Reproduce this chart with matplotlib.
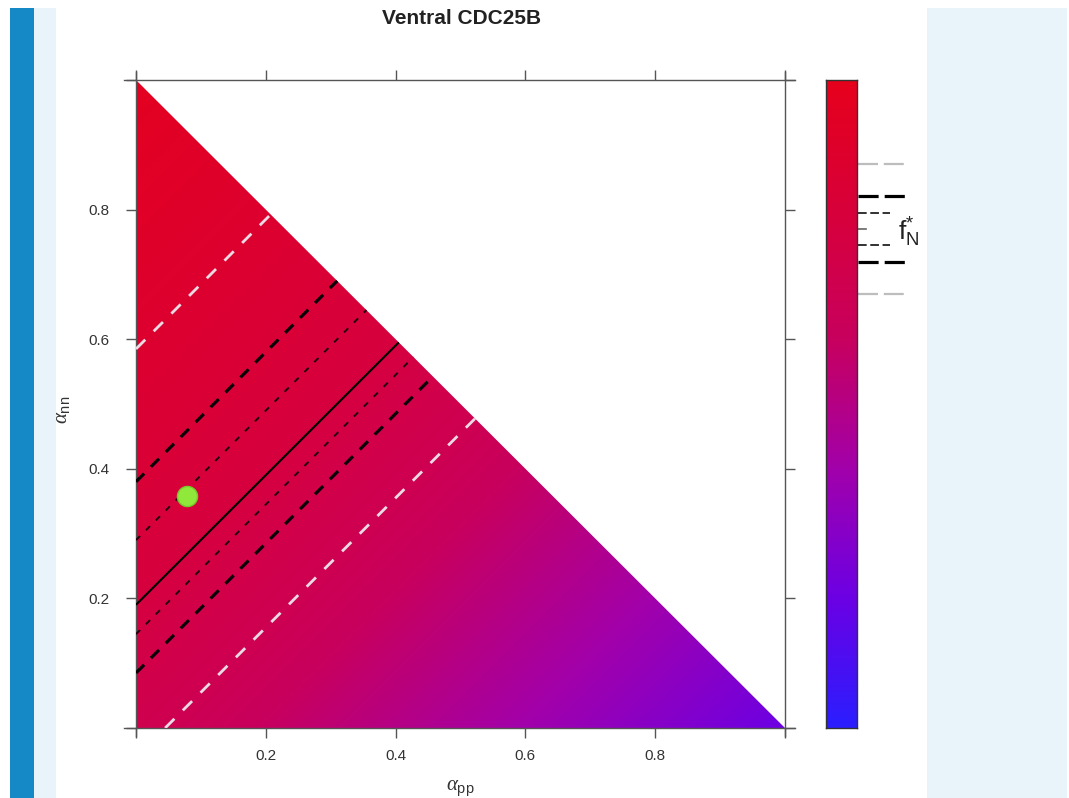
import numpy as np
import matplotlib
matplotlib.use("Agg")
import matplotlib.pyplot as plt
from matplotlib.colors import LinearSegmentedColormap
from matplotlib.patches import Polygon, Rectangle
from matplotlib.transforms import blended_transform_factory

# ---------------- data ----------------
title = "Ventral CDC25B"
tick_values = [0.0, 0.2, 0.4, 0.6, 0.8, 1.0]
tick_labels = ["", "0.2", "0.4", "0.6", "0.8", ""]
# colour-bar value f (0 = bottom/blue, 1 = top/red) read along d = alpha_nn - alpha_pp
d_anchor = [-1.0, -0.045, 0.085, 0.145, 0.19, 0.29, 0.38, 0.585, 1.0]
f_anchor = [0.20, 0.670, 0.719, 0.745, 0.770, 0.795, 0.821, 0.870, 0.97]
f_star = 0.770
level_offsets = [0.025, 0.051, 0.100]   # short dash, long dash, grey
point_pp = [0.079]
point_nn = [0.358]

# ---------------- style ----------------
plt.rcParams["font.family"] = ["Liberation Sans", "DejaVu Sans"]
plt.rcParams["mathtext.fontset"] = "custom"
plt.rcParams["mathtext.rm"] = "Liberation Sans"
plt.rcParams["mathtext.sf"] = "Liberation Sans"
plt.rcParams["mathtext.it"] = "Liberation Serif:italic"

W, H = 1069, 798
fig = plt.figure(figsize=(W / 100, H / 100), dpi=100)
fig.patch.set_facecolor("white")

def fx(px):
    return px / W

def fy(py):
    return 1 - py / H

# page decorations
fig.patches.append(Rectangle((fx(10), 0), fx(24), fy(8), transform=fig.transFigure,
                             facecolor="#1589c5", edgecolor="none", zorder=0))
fig.patches.append(Rectangle((fx(34), 0), fx(22), fy(8), transform=fig.transFigure,
                             facecolor="#e8f3fa", edgecolor="none", zorder=0))
fig.patches.append(Rectangle((fx(927), 0), fx(1067 - 927), fy(8), transform=fig.transFigure,
                             facecolor="#e8f3fa", edgecolor="none", zorder=0))

cmap = LinearSegmentedColormap.from_list(
    "br",
    [(0.0, "#2a1eff"), (0.2, "#6c00e4"), (0.4, "#a200aa"),
     (0.6, "#c8005e"), (0.8, "#d8003a"), (1.0, "#e6001c")])

ax = fig.add_axes([fx(136), fy(728), fx(785 - 136), (728 - 80) / H])
ax.set_xlim(0, 1)
ax.set_ylim(0, 1)
ax.set_facecolor("none")

n = 700
pp = np.linspace(0, 1, n)
nn = np.linspace(0, 1, n)
PP, NN = np.meshgrid(pp, nn)
F = np.interp(NN - PP, d_anchor, f_anchor)

tri = Polygon([[0, 0], [1, 0], [0, 1]], closed=True, facecolor="none",
              edgecolor="none", transform=ax.transData)
ax.add_patch(tri)
im = ax.imshow(F, extent=[0, 1, 0, 1], origin="lower", cmap=cmap, vmin=0, vmax=1,
               aspect="auto", interpolation="bilinear", zorder=1)
im.set_clip_path(tri)

styles = [
    # offset, colour, linewidth (pt), dash (in units of lw)
    (level_offsets[2], "#ecdbe3", 2.0, (4.7, 4.3)),
    (level_offsets[1], "#0a0008", 2.3, (3.6, 3.0)),
    (level_offsets[0], "#22000f", 1.4, (3.0, 4.2)),
]
for off, col, lw, dash in styles:
    cs = ax.contour(PP, NN, F, levels=[f_star - off, f_star + off], colors=[col],
                    linewidths=lw, zorder=3)
    cs.set_linestyle((0, dash))
    cs.set_clip_path(tri)
cs = ax.contour(PP, NN, F, levels=[f_star], colors=["black"], linewidths=1.5, zorder=3)
cs.set_clip_path(tri)

ax.plot(point_pp, point_nn, "o", ms=14.5, color="#8fe83a", mec="#76c82c", mew=1, zorder=5)

# axes frame (R style, lines slightly longer than the box)
for sp in ax.spines.values():
    sp.set_visible(False)
fc = "#555555"
ax.plot([-0.018, 1.016], [0, 0], transform=ax.transAxes, clip_on=False, color=fc, lw=1)
ax.plot([-0.018, 1.016], [1, 1], transform=ax.transAxes, clip_on=False, color=fc, lw=1)
ax.plot([0, 0], [-0.012, 1.012], transform=ax.transAxes, clip_on=False, color=fc, lw=1)
ax.plot([1, 1], [-0.012, 1.012], transform=ax.transAxes, clip_on=False, color=fc, lw=1)

ax.set_xticks(tick_values)
ax.set_xticklabels(tick_labels)
ax.set_yticks(tick_values)
ax.set_yticklabels(tick_labels)
ax.tick_params(axis="both", direction="out", length=7, width=1, color=fc,
               top=True, right=True, labelsize=11, labelcolor="#333333")
ax.tick_params(axis="x", pad=8)
ax.tick_params(axis="y", pad=12)

fig.text(fx(462), fy(18), title, ha="center", va="center", fontsize=15,
         fontweight="bold", color="#222222")
fig.text(fx(460), fy(789), r"$\alpha_{\mathrm{pp}}$", ha="center", va="center",
         fontsize=15, color="#333333")
fig.text(fx(63), fy(410), r"$\alpha_{\mathrm{nn}}$", ha="center", va="center",
         fontsize=15, color="#333333", rotation=90)

# ---------------- colour bar ----------------
cax = fig.add_axes([fx(826), fy(728), fx(857 - 826), (728 - 80) / H])
cax.imshow(np.linspace(0, 1, 512)[:, None], extent=[0, 1, 0, 1], origin="lower",
           cmap=cmap, vmin=0, vmax=1, aspect="auto")
cax.set_xlim(0, 1)
cax.set_ylim(0, 1)
cax.set_xticks([])
cax.set_yticks([])
for sp in cax.spines.values():
    sp.set_color("#333333")
    sp.set_linewidth(1)

tr = blended_transform_factory(cax.transAxes, cax.transData)
marker_styles = [
    (level_offsets[2], "#bdbdbd", 1.6, 2.55, (9.0, 2.6)),
    (level_offsets[1], "black", 2.3, 2.55, (6.3, 1.9)),
    (level_offsets[0], "#222222", 1.3, 2.06, (4.8, 2.0)),
]
for off, col, lw, xend, dash in marker_styles:
    for yv in (f_star - off, f_star + off):
        cax.plot([1.03, xend], [yv, yv], transform=tr, clip_on=False, color=col,
                 lw=lw, linestyle=(0, dash), solid_capstyle="butt", dash_capstyle="butt")
cax.plot([1.03, 1.28], [f_star, f_star], transform=tr, clip_on=False, color="#666666", lw=1.2)

fig.text(fx(898), fy(232), r"$\mathrm{f}^{*}_{\mathrm{N}}$", ha="left", va="center",
         fontsize=19, color="#222222")

fig.savefig("out.png", dpi=100)
